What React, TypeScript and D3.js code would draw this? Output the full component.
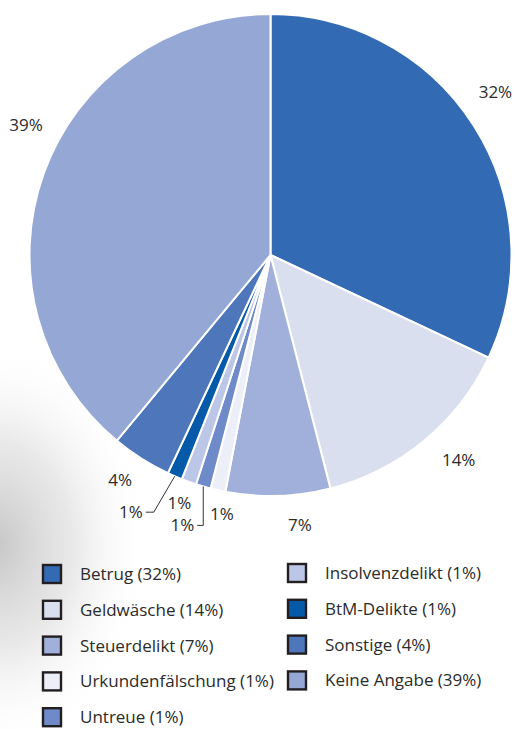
import React from "react";
import * as d3 from "d3";

const categories = [
  "Betrug",
  "Geldwäsche",
  "Steuerdelikt",
  "Urkundenfälschung",
  "Untreue",
  "Insolvenzdelikt",
  "BtM-Delikte",
  "Sonstige",
  "Keine Angabe",
];
const values = [32, 14, 7, 1, 1, 1, 1, 4, 39];
const colors = [
  "#326AB4",
  "#DADFF0",
  "#A0B0DA",
  "#EDEFF8",
  "#6E8AC8",
  "#BCC6E6",
  "#0559A9",
  "#4D76BB",
  "#94A7D5",
];
// legend columns (indices into categories)
const legendLeft = [0, 1, 2, 3, 4];
const legendRight = [5, 6, 7, 8];

// label placement per slice: radius + angle shift (deg), or leader (dx,dy elbow, then horizontal)
type Place = { r?: number; shift?: number; leader?: [number, number, number] };
const placement: Place[] = [
  { r: 278, shift: -3.6 },
  { r: 278, shift: -3 },
  { r: 272, shift: -4.4 },
  { r: 264, shift: -2 },
  { leader: [0, 39, -6] },
  { r: 264, shift: 0.4 },
  { leader: [-21, 36, -8] },
  { r: 271, shift: 1.3 },
  { r: 277, shift: 8.2 },
];

const W = 515;
const H = 729;
const cx = 270.5;
const cy = 255;
const R = 241;
const FONT = "'Open Sans', 'Noto Sans', sans-serif";
const TXT = "#2b2b2b";
const FS = 17;

export default function App() {
  const pie = d3
    .pie<number>()
    .sort(null)
    .value((d) => d);
  const arcs = pie(values);
  const arcGen = d3.arc<d3.PieArcDatum<number>>().innerRadius(0).outerRadius(R);

  const pt = (angle: number, r: number) => [
    Math.sin(angle) * r,
    -Math.cos(angle) * r,
  ];

  return (
    <svg
      width={W}
      height={H}
      style={{ position: "absolute", left: 0, top: 0, display: "block" }}
      fontFamily={FONT}
    >
      <defs>
        <radialGradient id="shade" cx="0.5" cy="0.5" r="0.5">
          <stop offset="0" stopColor="#c0c0c0" stopOpacity={0.9} />
          <stop offset="0.5" stopColor="#d6d6d6" stopOpacity={0.55} />
          <stop offset="1" stopColor="#ffffff" stopOpacity={0} />
        </radialGradient>
      </defs>
      <rect width={W} height={H} fill="#fff" />
      <ellipse cx={-5} cy={545} rx={155} ry={205} fill="url(#shade)" />
      <g transform={`translate(${cx},${cy})`}>
        {arcs.map((a, i) => (
          <path
            key={categories[i]}
            d={arcGen(a) || ""}
            fill={colors[i]}
            stroke="#fff"
            strokeWidth={2}
            strokeLinejoin="round"
          />
        ))}
        {arcs.map((a, i) => {
          const mid = (a.startAngle + a.endAngle) / 2;
          const label = `${values[i]}%`;
          const p = placement[i];
          if (p.leader) {
            const [x0, y0] = pt(mid, R);
            const x1 = x0 + p.leader[0];
            const y1 = y0 + p.leader[1];
            const x2 = x1 + p.leader[2];
            return (
              <g key={"l" + i}>
                <polyline
                  points={`${x0},${y0} ${x1},${y1} ${x2},${y1}`}
                  fill="none"
                  stroke="#333"
                  strokeWidth={1}
                />
                <text
                  x={x2 - 3}
                  y={y1}
                  dy="0.35em"
                  textAnchor="end"
                  fontSize={FS}
                  fill={TXT}
                >
                  {label}
                </text>
              </g>
            );
          }
          const ang = mid + ((p.shift || 0) * Math.PI) / 180;
          const [x, y] = pt(ang, p.r || R + 30);
          return (
            <text
              key={"l" + i}
              x={x}
              y={y}
              dy="0.35em"
              textAnchor="middle"
              fontSize={FS}
              fill={TXT}
            >
              {label}
            </text>
          );
        })}
      </g>
      {[legendLeft, legendRight].map((col, ci) =>
        col.map((idx, ri) => {
          const x = ci === 0 ? 43 : 288;
          const y = (ci === 0 ? 565 : 564) + ri * 35.8;
          return (
            <g key={categories[idx]}>
              <rect
                x={x}
                y={y}
                width={18}
                height={18}
                fill={colors[idx]}
                stroke="#231f20"
                strokeWidth={2.4}
              />
              <text
                x={x + 37}
                y={y + 15}
                fontSize={FS}
                fill={TXT}
              >
                {`${categories[idx]} (${values[idx]}%)`}
              </text>
            </g>
          );
        })
      )}
    </svg>
  );
}
